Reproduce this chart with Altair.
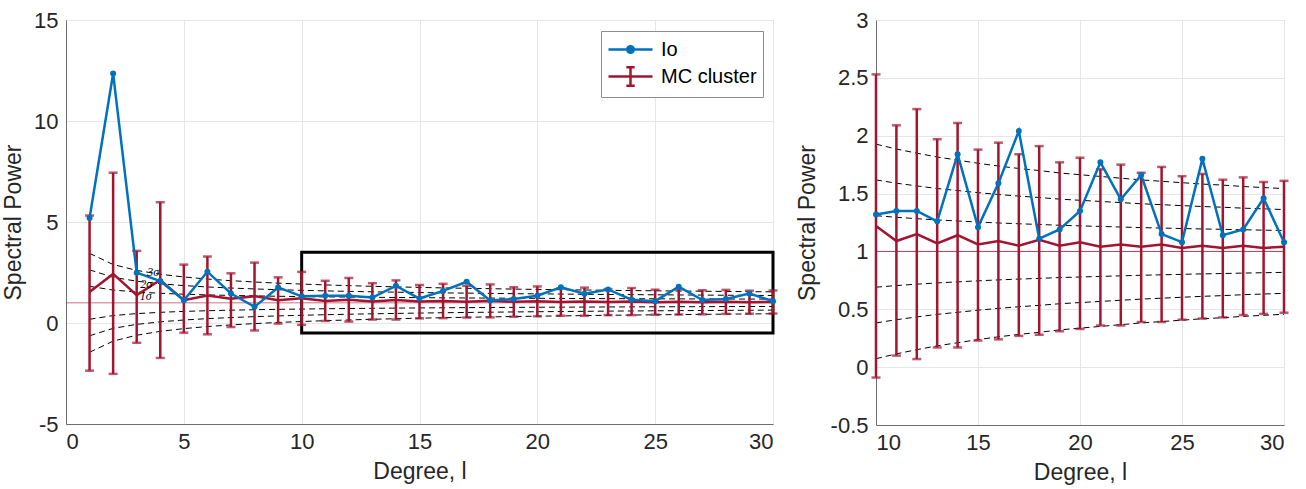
import altair as alt
import pandas as pd

# ---------------- data ----------------
degree = list(range(1, 31))
io_power = [5.20, 12.35, 2.49, 2.08, 1.13, 2.54, 1.46, 0.80, 1.76,
            1.32, 1.35, 1.35, 1.26, 1.84, 1.21, 1.59, 2.04, 1.11, 1.19, 1.35,
            1.77, 1.45, 1.66, 1.15, 1.08, 1.80, 1.14, 1.19, 1.46, 1.08]
mc_mean = [1.54, 2.43, 1.38, 2.13, 1.13, 1.36, 1.20, 1.33, 1.13,
           1.22, 1.09, 1.15, 1.07, 1.14, 1.06, 1.09, 1.05, 1.10, 1.05, 1.08,
           1.04, 1.06, 1.04, 1.06, 1.03, 1.05, 1.03, 1.05, 1.03, 1.04]
mc_upper = [5.32, 7.44, 3.57, 5.98, 2.89, 3.29, 2.46, 2.99, 2.26,
            2.53, 2.09, 2.23, 1.97, 2.11, 1.88, 1.94, 1.84, 1.91, 1.77, 1.81,
            1.71, 1.75, 1.68, 1.73, 1.65, 1.67, 1.62, 1.64, 1.60, 1.61]
mc_lower = [-2.36, -2.52, -0.98, -1.73, -0.48, -0.56, -0.20, -0.37, -0.03,
            -0.09, 0.10, 0.07, 0.17, 0.17, 0.23, 0.24, 0.27, 0.28, 0.31, 0.33,
            0.36, 0.36, 0.39, 0.39, 0.41, 0.42, 0.43, 0.45, 0.46, 0.47]
# 1-sigma half-width of the dashed envelopes (read per degree)
sigma = [0.816, 0.632, 0.535, 0.471, 0.426, 0.392, 0.365, 0.343, 0.324, 0.309,
         0.295, 0.283, 0.272, 0.263, 0.254, 0.246, 0.239, 0.233, 0.226, 0.221,
         0.216, 0.211, 0.206, 0.202, 0.198, 0.194, 0.191, 0.187, 0.184, 0.181]
sigma_levels = [-3, -2, -1, 1, 2, 3]
reference_level = [1.0]

sigma_label_text = ["3σ", "2σ", "1σ"]
sigma_label_x = [3.70, 3.40, 3.38]
sigma_label_y = [2.52, 1.95, 1.36]

zoom_box = {"x": [10], "x2": [30], "y": [-0.5], "y2": [3.5]}

series_names = ["Io", "MC cluster"]

left_y_ticks = [-5, 0, 5, 10, 15]
right_y_ticks = [-0.5, 0, 0.5, 1, 1.5, 2, 2.5, 3]
left_x_ticks = [0, 5, 10, 15, 20, 25, 30]
right_x_ticks = [10, 15, 20, 25, 30]

BLUE = "#0072BD"
RED = "#A2142F"
FONT = "Liberation Sans"

# ---------------- tables ----------------
df = pd.DataFrame({"degree": degree, "io": io_power, "mean": mc_mean,
                   "upper": mc_upper, "lower": mc_lower})
band_rows = []
for k in sigma_levels:
    for l, s in zip(degree, sigma):
        band_rows.append({"degree": l, "band": 1 + k * s, "k": str(k)})
bands = pd.DataFrame(band_rows)
ref_df = pd.DataFrame({"y": reference_level})
box_df = pd.DataFrame(zoom_box)
lab_df = pd.DataFrame({"x": sigma_label_x, "y": sigma_label_y, "t": sigma_label_text})
legend_df = pd.DataFrame({"name": series_names, "lx": [-100, -100], "ly": [0, 0]})

path_io = ("M-2,0L2,0M-0.3,0a0.3,0.3 0 1,0 0.6,0a0.3,0.3 0 1,0 -0.6,0")
path_mc = ("M-2,0L2,0M0,-0.85L0,0.85M-0.38,-0.85L0.38,-0.85M-0.38,0.85L0.38,0.85")


def panel(xmin, ymin, ymax, xticks, yticks, w, h, legend, box, labels,
          ref_opacity, ref_width, ytitle_pad):
    xs = alt.Scale(domain=[xmin, 30], nice=False, zero=False)
    ys = alt.Scale(domain=[ymin, ymax], nice=False, zero=False)
    xa = alt.Axis(values=xticks, title="Degree, l", labelExpr="datum.value + ''",
                  grid=True, ticks=False, labelPadding=7, titlePadding=8)
    ya = alt.Axis(values=yticks, title="Spectral Power", labelExpr="datum.value + ''",
                  grid=True, ticks=False, labelPadding=8, titlePadding=ytitle_pad)

    def X(f):
        return alt.X(f, scale=xs, axis=xa)

    def Y(f):
        return alt.Y(f, scale=ys, axis=ya)

    d = df[df.degree >= xmin]
    b = bands[bands.degree >= xmin]

    layers = []
    layers.append(alt.Chart(b).mark_line(color="black", strokeWidth=1, strokeDash=[6, 4]).encode(
        x=X("degree:Q"), y=Y("band:Q"), detail="k:N"))
    layers.append(alt.Chart(ref_df).mark_rule(color=RED, opacity=ref_opacity, strokeWidth=ref_width).encode(
        y=Y("y:Q")))
    if box:
        layers.append(alt.Chart(box_df).mark_rect(fillOpacity=0, stroke="black", strokeWidth=3).encode(
            x=X("x:Q"), x2="x2:Q", y=Y("y:Q"), y2="y2:Q"))
    layers.append(alt.Chart(d).mark_rule(color=RED, strokeWidth=2.5).encode(
        x=X("degree:Q"), y=Y("lower:Q"), y2="upper:Q"))
    layers.append(alt.Chart(d).mark_tick(color=RED, orient="horizontal", size=9, thickness=2.5).encode(
        x=X("degree:Q"), y=Y("lower:Q")))
    layers.append(alt.Chart(d).mark_tick(color=RED, orient="horizontal", size=9, thickness=2.5).encode(
        x=X("degree:Q"), y=Y("upper:Q")))
    layers.append(alt.Chart(d).mark_line(color=RED, strokeWidth=2.5).encode(
        x=X("degree:Q"), y=Y("mean:Q")))
    layers.append(alt.Chart(d).mark_line(color=BLUE, strokeWidth=2.5).encode(
        x=X("degree:Q"), y=Y("io:Q")))
    layers.append(alt.Chart(d).mark_point(color=BLUE, filled=True, size=36, opacity=1).encode(
        x=X("degree:Q"), y=Y("io:Q")))
    if labels:
        layers.append(alt.Chart(lab_df).mark_text(font="Liberation Serif", fontStyle="italic",
                                                  fontSize=12, color="black").encode(
            x=X("x:Q"), y=Y("y:Q"), text="t:N"))
    if legend:
        leg = alt.Legend(orient="none", legendX=535, legendY=11, title=None,
                         fillColor="white", strokeColor="#8c8c8c", padding=6,
                         symbolSize=484, symbolStrokeWidth=2.5, symbolOffset=11,
                         labelOffset=18, rowPadding=2, labelFontSize=20,
                         labelFont=FONT, labelColor="black", labelLimit=300)
        col_scale = alt.Scale(domain=series_names, range=[BLUE, RED])
        layers.append(alt.Chart(legend_df).mark_point(filled=True, clip=True, size=484, strokeWidth=2.5,
                                                      opacity=1).encode(
            x=X("lx:Q"), y=Y("ly:Q"),
            color=alt.Color("name:N", scale=col_scale, legend=leg),
            stroke=alt.Stroke("name:N", scale=col_scale, legend=leg),
            shape=alt.Shape("name:N", scale=alt.Scale(domain=series_names, range=[path_io, path_mc]),
                            legend=leg)))
    return alt.layer(*layers).properties(width=w, height=h)


left = panel(0, -5, 15, left_x_ticks, left_y_ticks, 707, 404, True, True, True, 0.4, 1.6, 8)
right = panel(10, -0.5, 3, right_x_ticks, right_y_ticks, 408, 405, False, False, False, 0.8, 1, 11)

chart = alt.hconcat(left, right, spacing=16).properties(
    padding={"left": 2, "top": 8, "right": 5, "bottom": 2}
).configure(font=FONT).configure_view(
    stroke="#b4b4b4", strokeWidth=1
).configure_axis(
    labelFont=FONT, titleFont=FONT, labelFontSize=22, titleFontSize=23,
    titleFontWeight="normal", labelColor="#262626", titleColor="#262626",
    domainColor="#6e6e6e", domainWidth=1, gridColor="#e6e6e6", gridWidth=1
)

chart.save("out.html", embed_options={"renderer": "svg", "actions": False})
